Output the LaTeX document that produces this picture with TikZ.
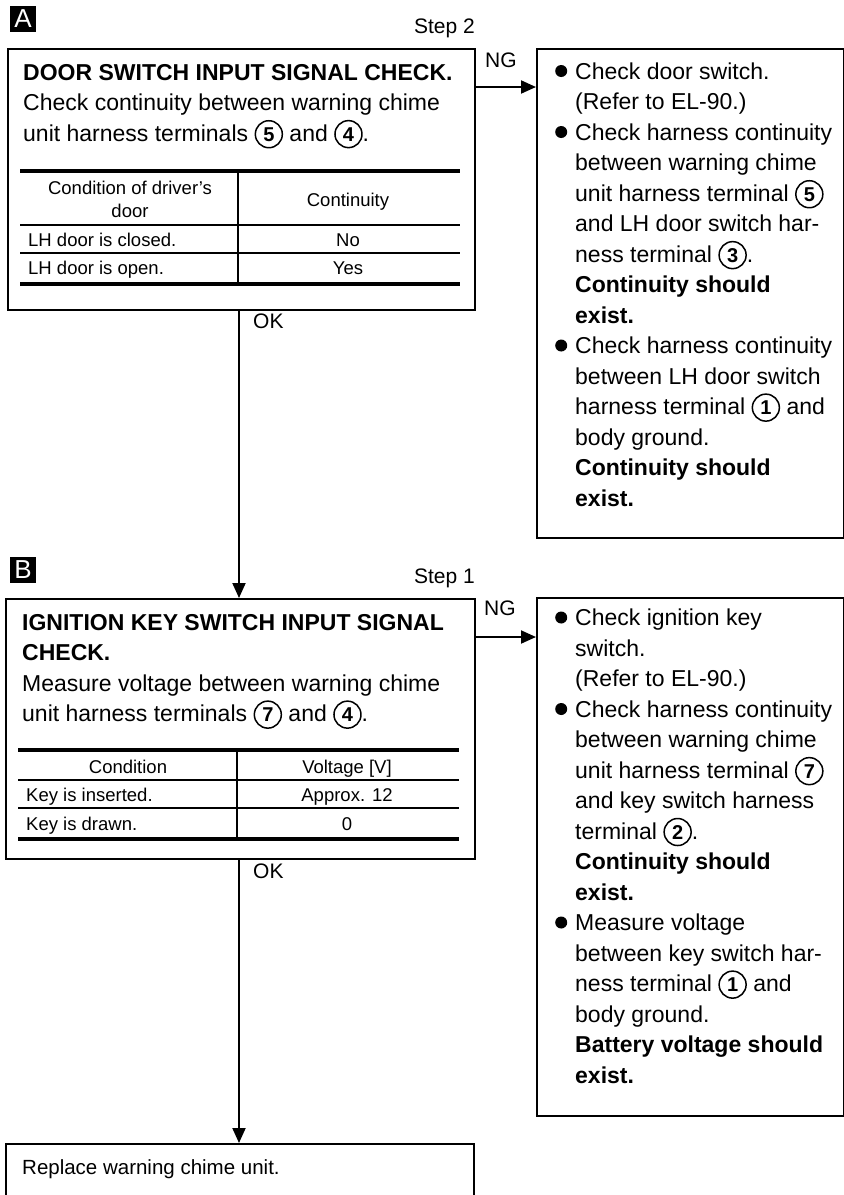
\documentclass[tikz,border=0pt]{standalone}
\usepackage{fontspec}
\setmainfont{Liberation Sans}
\usetikzlibrary{arrows.meta}
\newcommand\fmain{\fontsize{23}{30.5}\selectfont}
\newcommand\ftab{\fontsize{18.5}{24}\selectfont}
\newcommand\fsm{\fontsize{21}{24}\selectfont}
\newcommand\cnum[1]{\tikz[baseline=(cnx.base)]\node[circle,draw,line width=1.5pt,inner sep=0pt,minimum size=27pt,font=\bfseries\fontsize{20}{20}\selectfont](cnx){#1};}
\newcommand\bul{\llap{\raisebox{2pt}{\tikz\fill (0pt,0pt) circle (6pt);}\hspace{8pt}}}
\tikzset{
  box/.style={draw,line width=2pt,inner sep=0pt,anchor=north west},
  tag/.style={fill=black,text=white,minimum width=26pt,minimum height=26pt,inner sep=0pt,font=\fontsize{26}{26}\selectfont},
  lbl/.style={font=\fsm,inner sep=0pt,anchor=base west},
  txt/.style={font=\fmain,inner sep=0pt,anchor=base west,align=left},
  tb/.style={font=\ftab,inner sep=0pt,anchor=base},
  tbl/.style={font=\ftab,inner sep=0pt,anchor=base west},
  arr/.style={line width=2pt,-{Triangle[length=15pt,width=13pt]}},
  thk/.style={line width=3.8pt},
  thn/.style={line width=1.6pt}
}
\begin{document}
\begin{tikzpicture}[x=1pt,y=-1pt]
\useasboundingbox[fill=white] (0,0) rectangle (844,1195);
% labels
\node[tag] (labA) at (23,19) {A};
\node[tag] (labB) at (23,570) {B};
\node[lbl,anchor=base east] (st2) at (475,33) {Step 2};
\node[lbl,anchor=base east] (st1) at (475,583) {Step 1};
% boxes
\node[box,minimum width=467pt,minimum height=261pt] (boxA) at (7,48) {};
\node[box,minimum width=307pt,minimum height=489pt] (rA) at (536,48) {};
\node[box,minimum width=469pt,minimum height=260pt] (boxB) at (5,598) {};
\node[box,minimum width=307pt,minimum height=518pt] (rB) at (536,597) {};
\node[box,minimum width=468pt,minimum height=90pt] (fin) at (5,1143) {};
% box A text (anchor = last line baseline)
\node[txt] (tA) at (23,141) {\textbf{DOOR SWITCH INPUT SIGNAL CHECK.}\\Check continuity between warning chime\\unit harness terminals \cnum{5} and \cnum{4}.};
\draw[thk] (20,171) -- (460,171);
\draw[thn] (20,225) -- (460,225);
\draw[thn] (20,253) -- (460,253);
\draw[thk] (20,284) -- (460,284);
\draw[thn] (238,171) -- (238,284);
\node[tb] (a11) at (130,194) {Condition of driver’s};
\node[tb] (a12) at (130,217) {door};
\node[tb] (a13) at (348,206) {Continuity};
\node[tbl] (a21) at (28,246) {LH door is closed.};
\node[tb] (a22) at (348,246) {No};
\node[tbl] (a31) at (28,274) {LH door is open.};
\node[tb] (a32) at (348,274) {Yes};
% right A text
\node[txt] (tRA) at (575,506) {\bul Check door switch.\\(Refer to EL-90.)\\\bul Check harness continuity\\between warning chime\\unit harness terminal \cnum{5}\\and LH door switch har-\\ness terminal \cnum{3}.\\\textbf{Continuity should}\\\textbf{exist.}\\\bul Check harness continuity\\between LH door switch\\harness terminal \cnum{1} and\\body ground.\\\textbf{Continuity should}\\\textbf{exist.}};
% box B text
\node[txt] (tB) at (22,721.5) {\textbf{IGNITION KEY SWITCH INPUT SIGNAL}\\\textbf{CHECK.}\\Measure voltage between warning chime\\unit harness terminals \cnum{7} and \cnum{4}.};
\draw[thk] (18,750) -- (459,750);
\draw[thn] (18,780) -- (459,780);
\draw[thn] (18,808) -- (459,808);
\draw[thk] (18,839) -- (459,839);
\draw[thn] (237,750) -- (237,839);
\node[tb] (b11) at (128,773) {Condition};
\node[tb] (b12) at (347,773) {Voltage [V]};
\node[tbl] (b21) at (26,801) {Key is inserted.};
\node[tb] (b22) at (347,801) {Approx. 12};
\node[tbl] (b31) at (26,830) {Key is drawn.};
\node[tb] (b32) at (347,830) {0};
% right B text
\node[txt] (tRB) at (575,1083) {\bul Check ignition key\\switch.\\(Refer to EL-90.)\\\bul Check harness continuity\\between warning chime\\unit harness terminal \cnum{7}\\and key switch harness\\terminal \cnum{2}.\\\textbf{Continuity should}\\\textbf{exist.}\\\bul Measure voltage\\between key switch har-\\ness terminal \cnum{1} and\\body ground.\\\textbf{Battery voltage should}\\\textbf{exist.}};
% final text
\node[font=\fontsize{20.5}{25}\selectfont,inner sep=0pt,anchor=base west] (tF) at (22,1174) {Replace warning chime unit.};
% connectors
\coordinate (ngA) at (500,87);
\coordinate (ngB) at (500,637);
\coordinate (okx) at (239,0);
\draw[arr] (boxA.east |- ngA) -- (rA.west |- ngA);
\draw[arr] (boxB.east |- ngB) -- (rB.west |- ngB);
\draw[arr] (boxA.south -| okx) -- (boxB.north -| okx);
\draw[arr] (boxB.south -| okx) -- (fin.north -| okx);
\node[lbl] (ng1) at (485,67) {NG};
\node[lbl] (ng2) at (484,615) {NG};
\node[lbl] (ok1) at (253,328) {OK};
\node[lbl] (ok2) at (253,878) {OK};
\end{tikzpicture}
\end{document}
